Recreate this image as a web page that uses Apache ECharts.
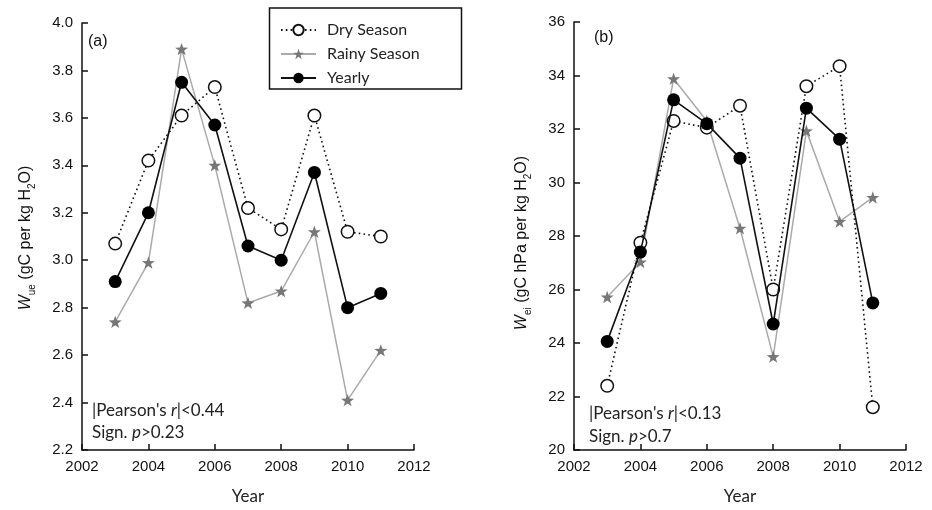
<!DOCTYPE html>
<html>
<head>
<meta charset="utf-8">
<style>
  html, body { margin: 0; padding: 0; background: #fff; }
  #chart { width: 932px; height: 510px; }
</style>
<script src="https://cdn.jsdelivr.net/npm/echarts@6/dist/echarts.min.js"></script>
</head>
<body>
<div id="chart"></div>
<script>
// Years of observation
const years = [2003, 2004, 2005, 2006, 2007, 2008, 2009, 2010, 2011];

// Panel (a): Wue, gC per kg H2O
const wueDry    = [3.07, 3.42, 3.61, 3.73, 3.22, 3.13, 3.61, 3.12, 3.10];
const wueRainy  = [2.74, 2.99, 3.89, 3.40, 2.82, 2.87, 3.12, 2.41, 2.62];
const wueYearly = [2.91, 3.20, 3.75, 3.57, 3.06, 3.00, 3.37, 2.80, 2.86];

// Panel (b): Wei, gC hPa per kg H2O
const weiDry    = [22.4, 27.75, 32.3, 32.05, 32.87, 26.0, 33.6, 34.35, 21.6];
const weiRainy  = [25.72, 27.03, 33.88, 32.3, 28.29, 23.49, 31.93, 28.54, 29.44];
const weiYearly = [24.06, 27.4, 33.09, 32.2, 30.91, 24.71, 32.78, 31.62, 25.5];

// Axis ranges and tick spacing
const xRange = { min: 2002, max: 2012, interval: 2 };
const wueRange = { min: 2.2, max: 4.0, interval: 0.2 };
const weiRange = { min: 20, max: 36, interval: 2 };

const seriesNames = ['Dry Season', 'Rainy Season', 'Yearly'];
const panelLabels = ['(a)', '(b)'];
const yTitles = [
  '{w|W}{s|ue}{t| (gC per kg H}{s|2}{t|O)}',
  '{w|W}{s|ei}{t| (gC hPa per kg H}{s|2}{t|O)}'
];
const statsText = [
  ['|Pearson\'s {i|r}|<0.44', 'Sign. {i|p}>0.23'],
  ['|Pearson\'s {i|r}|<0.13', 'Sign. {i|p}>0.7']
];

const STAR = 'path://M0,-10L2.35,-3.24L9.51,-3.09L3.8,1.24L5.88,8.09L0,4L-5.88,8.09L-3.8,1.24L-9.51,-3.09L-2.35,-3.24Z';
const tickFont = 'Liberation Sans';
const textFont = 'Lato';

function pairs(vals) {
  return years.map((y, i) => [y, vals[i]]);
}

function xAxisFor(idx) {
  return {
    type: 'value', gridIndex: idx,
    min: xRange.min, max: xRange.max, interval: xRange.interval,
    name: 'Year', nameLocation: 'middle', nameGap: 38,
    nameTextStyle: { fontFamily: textFont, fontSize: 17, color: '#222' },
    axisLine: { lineStyle: { color: '#111', width: 1.5 } },
    axisTick: { inside: true, length: 6, lineStyle: { color: '#111', width: 1.5 } },
    axisLabel: { fontFamily: tickFont, fontSize: 15, color: '#111', margin: 9, formatter: v => String(v) },
    splitLine: { show: false }
  };
}

function yAxisFor(idx, range, digits) {
  return {
    type: 'value', gridIndex: idx,
    min: range.min, max: range.max, interval: range.interval,
    axisLine: { show: true, lineStyle: { color: '#111', width: 1.5 } },
    axisTick: { show: true, inside: true, length: 6, lineStyle: { color: '#111', width: 1.5 } },
    axisLabel: {
      fontFamily: tickFont, fontSize: 15, color: '#111', margin: 9,
      formatter: v => v.toFixed(digits)
    },
    splitLine: { show: false }
  };
}

function seriesFor(idx, dry, rainy, yearly) {
  return [
    {
      name: 'Rainy Season', type: 'line', xAxisIndex: idx, yAxisIndex: idx,
      data: pairs(rainy), symbol: STAR, symbolSize: 13, symbolKeepAspect: true,
      lineStyle: { color: '#aaaaaa', width: 1.5 },
      itemStyle: { color: '#777777' }, z: 2
    },
    {
      name: 'Dry Season', type: 'line', xAxisIndex: idx, yAxisIndex: idx,
      data: pairs(dry), symbol: 'circle', symbolSize: 12.5,
      lineStyle: { color: '#111', width: 1.6, type: [1.6, 3.2] },
      itemStyle: { color: '#fff', borderColor: '#111', borderWidth: 1.5 }, z: 3
    },
    {
      name: 'Yearly', type: 'line', xAxisIndex: idx, yAxisIndex: idx,
      data: pairs(yearly), symbol: 'circle', symbolSize: 13,
      lineStyle: { color: '#111', width: 1.6 },
      itemStyle: { color: '#000' }, z: 4
    }
  ];
}

const titleRich = {
  w: { fontFamily: tickFont, fontSize: 16, fontStyle: 'italic', fill: '#111', lineHeight: 22 },
  t: { fontFamily: tickFont, fontSize: 16, fill: '#111', lineHeight: 22 },
  s: { fontFamily: tickFont, fontSize: 10, fill: '#111', lineHeight: 12, verticalAlign: 'bottom' }
};

function yTitleGraphic(x, y, text) {
  return {
    type: 'text', x: x, y: y, rotation: Math.PI / 2,
    style: { text: text, rich: titleRich, align: 'center', verticalAlign: 'middle' }
  };
}

function statsGraphic(x, y1, y2, lines) {
  const rich = {
    i: { fontFamily: textFont, fontSize: 17, fontStyle: 'italic', fill: '#222' }
  };
  return [
    { type: 'text', x: x, y: y1, style: { text: lines[0], fontFamily: textFont, fontSize: 17, fill: '#222', rich, verticalAlign: 'middle' } },
    { type: 'text', x: x, y: y2, style: { text: lines[1], fontFamily: textFont, fontSize: 17, fill: '#222', rich, verticalAlign: 'middle' } }
  ];
}

const chart = echarts.init(document.getElementById('chart'), null, { renderer: 'canvas' });

chart.setOption({
  animation: false,
  backgroundColor: '#fff',
  grid: [
    { left: 82, top: 23, right: 518, bottom: 51 },
    { left: 574, top: 22, right: 26, bottom: 52 }
  ],
  xAxis: [xAxisFor(0), xAxisFor(1)],
  yAxis: [yAxisFor(0, wueRange, 1), yAxisFor(1, weiRange, 0)],
  legend: {
    orient: 'vertical',
    left: 280, top: 22,
    padding: 0,
    itemWidth: 35, itemHeight: 13, itemGap: 8,
    data: seriesNames,
    textStyle: { fontFamily: textFont, fontSize: 16, lineHeight: 13.5, color: '#222', padding: [0, 0, 0, 6] }
  },
  graphic: [
    { type: 'rect', shape: { x: 269.5, y: 8, width: 192, height: 81 },
      style: { fill: 'none', stroke: '#111', lineWidth: 1.5 }, z: 100 },
    { type: 'text', left: 88, top: 34, style: { text: panelLabels[0], fontFamily: tickFont, fontSize: 16, fill: '#111' } },
    { type: 'text', left: 594, top: 30, style: { text: panelLabels[1], fontFamily: tickFont, fontSize: 16, fill: '#111' } },
    yTitleGraphic(26, 238, yTitles[0]),
    yTitleGraphic(522, 243, yTitles[1]),
    ...statsGraphic(92, 411, 433, statsText[0]),
    ...statsGraphic(589, 414, 437, statsText[1])
  ],
  series: [
    ...seriesFor(0, wueDry, wueRainy, wueYearly),
    ...seriesFor(1, weiDry, weiRainy, weiYearly)
  ]
});
</script>
</body>
</html>
